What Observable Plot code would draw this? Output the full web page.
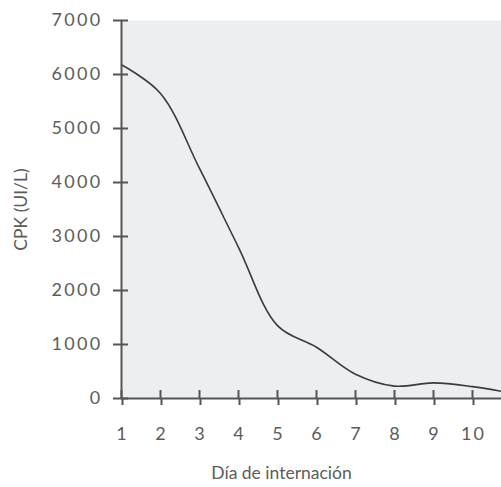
<!DOCTYPE html>
<html><head><meta charset="utf-8">
<script src="https://cdn.jsdelivr.net/npm/d3@7"></script>
<script src="https://cdn.jsdelivr.net/npm/@observablehq/plot@0.6"></script>
<style>
html,body{margin:0;padding:0;background:#fff;overflow:hidden}
svg{overflow:hidden}
g[aria-label="y-axis tick label"]{letter-spacing:2.3px}
g[aria-label="x-axis tick label"]{letter-spacing:2px}
</style>
</head><body><div id="chart"></div>
<script>
const days = [1, 2, 3, 4, 5, 6, 7, 8, 9, 10, 11];
const cpk = [6180, 5650, 4260, 2800, 1350, 950, 450, 230, 290, 220, 100];
const yTicks = [0, 1000, 2000, 3000, 4000, 5000, 6000, 7000];
const xTicks = [1, 2, 3, 4, 5, 6, 7, 8, 9, 10, 11];
const xLabel = "Día de internación";
const yLabel = "CPK (UI/L)";

const data = days.map((d, i) => ({day: d, value: cpk[i]}));
const ink = "#555";
const textInk = "#5c5c5c";
const font = "Lato, 'Open Sans', sans-serif";

const chart = Plot.plot({
  width: 501,
  height: 487,
  marginLeft: 121,
  marginTop: 20,
  marginBottom: 89,
  marginRight: -10,
  style: {fontFamily: font, fontSize: "18px", color: textInk, background: "#fff", overflow: "hidden"},
  x: {domain: [1, 11]},
  y: {domain: [0, 7000]},
  marks: [
    Plot.frame({fill: "#eceef0", stroke: null}),
    Plot.line(data, {x: "day", y: "value", curve: "catmull-rom", stroke: "#3a3a3a", strokeWidth: 1.6}),
    Plot.ruleX([1], {stroke: ink, strokeWidth: 2}),
    Plot.ruleY([0], {stroke: ink, strokeWidth: 2}),
    Plot.axisY(yTicks, {tickSize: 8, tickPadding: 11, tickFormat: d => String(d), stroke: ink, strokeWidth: 2, fill: textInk, fontSize: 18, label: null}),
    Plot.axisY(yTicks, {tickSize: -7, text: null, stroke: ink, strokeWidth: 2, label: null}),
    Plot.axisX(xTicks, {tickSize: 7, tickPadding: 22, tickFormat: d => String(d), stroke: ink, strokeWidth: 2, fill: textInk, fontSize: 18, label: null, dx: 1}),
    Plot.axisX(xTicks, {tickSize: -8, text: null, stroke: ink, strokeWidth: 2, label: null}),
    Plot.text([xLabel], {frameAnchor: "bottom", dx: -35, dy: 80, fill: textInk, fontSize: 17.5, letterSpacing: 1.6}),
    Plot.text([yLabel], {frameAnchor: "left", textAnchor: "middle", rotate: -90, dx: -100, fill: textInk, fontSize: 17.5, letterSpacing: 1.4})
  ]
});
document.getElementById("chart").appendChild(chart);
</script>
</body></html>
